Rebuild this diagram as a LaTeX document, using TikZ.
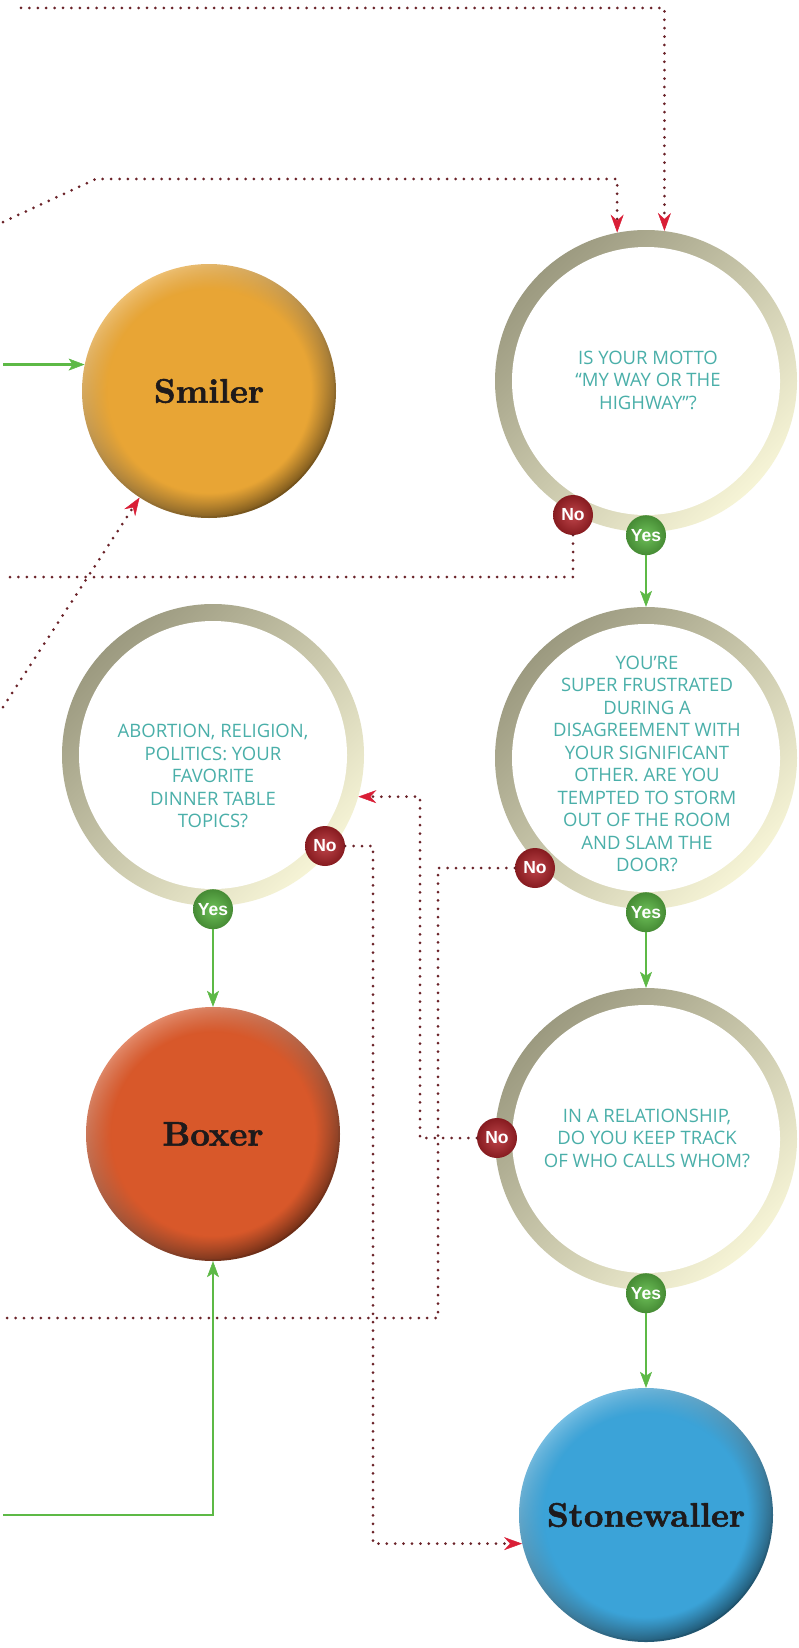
\documentclass[tikz,border=0pt]{standalone}
\usepackage{fontspec}
\usepackage{tikz}
\usetikzlibrary{arrows.meta, fadings, positioning}
\newfontfamily\qfont{Open Sans}
\newfontfamily\badgefont{Liberation Sans}
\newfontfamily\outfont{lmroman10-bold.otf}[FakeBold=1.6]
\definecolor{dotred}{HTML}{6A2228}
\definecolor{tipred}{HTML}{D91E36}
\definecolor{yesgreen}{HTML}{5DB946}
\definecolor{nored}{HTML}{B3242A}
\definecolor{qteal}{HTML}{4AAFA9}
\definecolor{ringdark}{HTML}{9C9A80}
\definecolor{ringlight}{HTML}{F6F4D6}
\definecolor{smilergold}{HTML}{E8A535}
\definecolor{boxerorange}{HTML}{D8582A}
\definecolor{stoneblue}{HTML}{3BA3D8}
\definecolor{outink}{HTML}{1E1A1B}
\def\ringradius{151}
\def\ringinner{134}
\def\btnradius{127}
\def\btninner{125}
\def\badgeradius{20}

\tikzset{
  question/.style={circle, minimum size=2*\ringradius pt, inner sep=0pt, top color=ringdark, bottom color=ringlight, shading angle=45, path picture={\fill[white, path fading=circle with fuzzy edge 10 percent] (path picture bounding box.center) circle (\ringinner pt);}},
  qtext/.style={font=\qfont\fontsize{18.5}{22.5}\selectfont, text=qteal, align=center, inner sep=0pt},
  outcome/.style={circle, minimum size=2*\btnradius pt, inner sep=0pt, top color=#1!70!white, bottom color=#1!50!black, shading angle=35, font=\outfont\fontsize{34}{34}\selectfont, text=outink, path picture={\fill[#1, path fading=circle with fuzzy edge 20 percent] (path picture bounding box.center) circle (\btninner pt);}},
  badge/.style={circle, minimum size=2*\badgeradius pt, inner sep=0pt, font=\badgefont\fontsize{17.5}{17.5}\selectfont\bfseries, text=white},
  nobadge/.style={badge, inner color=nored!85!white, outer color=nored!75!black},
  yesbadge/.style={badge, inner color=yesgreen!90!white, outer color=yesgreen!75!black},
  noline/.style={draw=dotred, line width=3pt, line cap=round, dash pattern=on 0pt off 8.4pt},
  noarrow/.style={noline, -{Stealth[length=18pt, width=13pt, inset=6pt, line width=0.5pt, color=tipred]}},
  yesline/.style={draw=yesgreen, line width=2.3pt, -{Stealth[length=16pt, width=12pt, inset=4pt, line width=0.5pt]}}
}

\begin{document}
\begin{tikzpicture}[x=1pt, y=-1pt]

\path[use as bounding box, fill=white] (0,0) rectangle (799,1648);

% Outcomes
\node[outcome=smilergold] (smiler) at (209, 391) {Smiler};
\node[outcome=boxerorange] (boxer) at (213, 1134) {Boxer};
\node[outcome=stoneblue] (stonewaller) at (646, 1515) {Stonewaller};

% My way or the highway
\node[question] (q1) at (646, 381) {};
\node[qtext] (q1text) at (648, 380) {IS YOUR MOTTO\\“MY WAY OR THE\\HIGHWAY”?};
\node[nobadge] (q1no) at (573, 515) {No};
\node[yesbadge] (q1yes) at ([yshift=-3pt]q1.south) {Yes};

% Storm out of the room
\node[question] (q2) at (646, 758) {};
\node[qtext] (q2text) at (647, 764) {YOU’RE\\SUPER FRUSTRATED\\DURING A\\DISAGREEMENT WITH\\YOUR SIGNIFICANT\\OTHER. ARE YOU\\TEMPTED TO STORM\\OUT OF THE ROOM\\AND SLAM THE\\DOOR?};
\node[nobadge] (q2no) at (535, 868) {No};
\node[yesbadge] (q2yes) at ([yshift=-3pt]q2.south) {Yes};

% Dinner table topics
\node[question] (q3) at (213, 755) {};
\node[qtext] (q3text) at (213, 776) {ABORTION, RELIGION,\\POLITICS: YOUR\\FAVORITE\\DINNER TABLE\\TOPICS?};
\node[nobadge] (q3no) at (325, 846) {No};
\node[yesbadge] (q3yes) at ([yshift=-3pt]q3.south) {Yes};

% Who calls whom
\node[question] (q4) at (646, 1139) {};
\node[qtext] (q4text) at (647, 1138) {IN A RELATIONSHIP,\\DO YOU KEEP TRACK\\OF WHO CALLS WHOM?};
\node[nobadge] (q4no) at (497, 1138) {No};
\node[yesbadge] (q4yes) at ([yshift=-3pt]q4.south) {Yes};

% Loose ends
\coordinate (topstart) at (21, 8);
\coordinate (leftA) at (3, 222);
\coordinate (bendA) at (96, 179);
\coordinate (leftB) at (3, 577);
\coordinate (leftC) at (3, 707);
\coordinate (leftD) at (3, 1318);
\coordinate (leftE) at (3, 1515);
\coordinate (leftedge) at (3, 0);
\coordinate (colD) at (438, 0);
\coordinate (colE) at (373, 0);
\coordinate (colF) at (420, 0);

% Yes arrows
\draw[yesline] (smiler.168 -| leftedge) -- (smiler.168);
\draw[yesline] (q1yes) -- (q2);
\draw[yesline] (q2yes) -- (q4);
\draw[yesline] (q3yes) -- (boxer);
\draw[yesline] (q4yes) -- (stonewaller);
\draw[yesline] (leftE) -| (boxer);

% No lines
\draw[noarrow] (topstart) -| (q1.83);
\draw[noarrow] (leftA) -- (bendA) -| (q1.101);
\draw[noline] (q1no.south) |- (leftB);
\draw[noarrow] (leftC) -- (smiler);
\draw[noline] (q2no.west) -- (q2no.west -| colD) |- (leftD);
\draw[noarrow] (q3no.east) -- (q3no.east -| colE) |- (stonewaller.193);
\draw[noarrow] (q4no.west) -- (q4no.west -| colF) |- (q3.-16);

\end{tikzpicture}
\end{document}
